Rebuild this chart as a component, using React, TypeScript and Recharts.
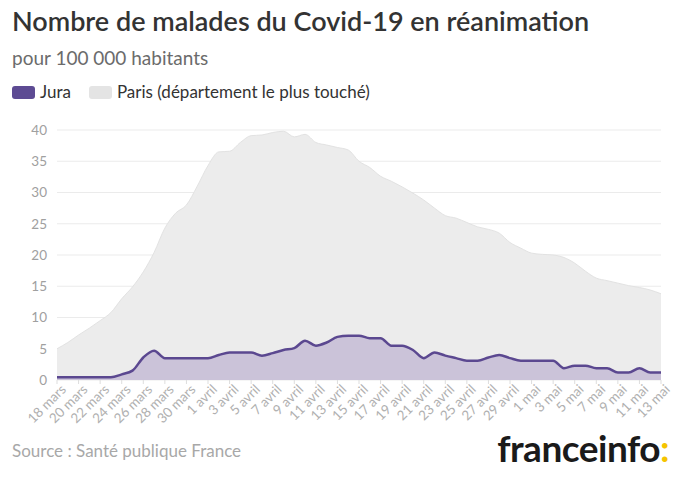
import React from 'react';
import { AreaChart, Area, XAxis, YAxis, CartesianGrid } from 'recharts';

const dates = [
    '18 mars', '19 mars', '20 mars', '21 mars', '22 mars', '23 mars', '24 mars', '25 mars',
    '26 mars', '27 mars', '28 mars', '29 mars', '30 mars', '31 mars',
    '1 avril', '2 avril', '3 avril', '4 avril', '5 avril', '6 avril', '7 avril', '8 avril',
    '9 avril', '10 avril', '11 avril', '12 avril', '13 avril', '14 avril', '15 avril',
    '16 avril', '17 avril', '18 avril', '19 avril', '20 avril', '21 avril', '22 avril',
    '23 avril', '24 avril', '25 avril', '26 avril', '27 avril', '28 avril', '29 avril', '30 avril',
    '1 mai', '2 mai', '3 mai', '4 mai', '5 mai', '6 mai', '7 mai', '8 mai', '9 mai',
    '10 mai', '11 mai', '12 mai', '13 mai',
];

const jura = [
    0.45, 0.45, 0.45, 0.45, 0.45, 0.45, 0.9, 1.5, 3.6, 4.7, 3.5, 3.5, 3.5, 3.5,
    3.5, 4.0, 4.4, 4.4, 4.4, 3.9, 4.3, 4.8, 5.1, 6.3, 5.5, 6.0, 6.9, 7.1, 7.1,
    6.7, 6.7, 5.5, 5.5, 4.8, 3.5, 4.4, 3.9, 3.5, 3.1, 3.1, 3.6, 4.0, 3.5, 3.1,
    3.1, 3.1, 3.1, 1.9, 2.3, 2.3, 1.9, 1.9, 1.2, 1.2, 1.9, 1.2, 1.2,
];

const paris = [
    5.0, 6.0, 7.2, 8.3, 9.5, 10.8, 13.0, 14.9, 17.3, 20.4, 24.3, 26.7, 28.0, 31.0,
    34.3, 36.5, 36.6, 38.0, 39.1, 39.2, 39.6, 39.8, 38.9, 39.3, 38.0, 37.6, 37.2, 36.8, 35.0,
    34.0, 32.6, 31.8, 30.9, 29.9, 28.8, 27.5, 26.3, 25.9, 25.2, 24.5, 24.1, 23.5, 22.0, 21.1,
    20.3, 20.1, 20.0, 19.6, 18.7, 17.4, 16.3, 15.9, 15.5, 15.1, 14.8, 14.4, 13.8,
];

const yTicks = [0, 5, 10, 15, 20, 25, 30, 35, 40];

const data = dates.map((d, i) => ({ date: d, jura: jura[i], paris: paris[i] }));

const FONT = 'Lato, "Open Sans", sans-serif';

const DateTick = (props: any) => {
    const { x, y, payload } = props;
    return (
        <g transform={`translate(${x},${y})`}>
            <text
                x={4}
                y={10}
                textAnchor="end"
                fill="#b0b0b0"
                fontSize={13.5}
                fontFamily={FONT}
                transform="rotate(-45)"
            >
                {payload.value}
            </text>
        </g>
    );
};

const Swatch = ({ color }: { color: string }) => (
    <span
        style={{
            display: 'inline-block',
            width: 23,
            height: 13,
            borderRadius: 3,
            background: color,
            marginRight: 5,
            verticalAlign: -1,
        }}
    />
);

export default function App() {
    return (
        <div
            style={{
                position: 'absolute',
                left: 0,
                top: 0,
                width: 680,
                height: 480,
                background: '#fff',
                fontFamily: FONT,
                overflow: 'hidden',
            }}
        >
            <div style={{ position: 'absolute', left: 12, top: 4, fontSize: 27, fontWeight: 600, color: '#333' }}>
                Nombre de malades du Covid-19 en réanimation
            </div>
            <div style={{ position: 'absolute', left: 12, top: 46, fontSize: 19, color: '#6b6b6b' }}>
                pour 100 000 habitants
            </div>
            <div style={{ position: 'absolute', left: 12, top: 81, fontSize: 17, color: '#333' }}>
                <Swatch color="#5d4b93" />
                <span style={{ marginRight: 18 }}>Jura</span>
                <Swatch color="#e4e4e4" />
                <span>Paris (département le plus touché)</span>
            </div>

            <div style={{ position: 'absolute', left: 0, top: 110 }}>
                <AreaChart width={680} height={330} data={data} margin={{ top: 20, right: 19, bottom: 5, left: 0 }}>
                    <CartesianGrid vertical={false} stroke="#ebebeb" />
                    <XAxis
                        dataKey="date"
                        interval={1}
                        tick={<DateTick />}
                        tickLine={{ stroke: '#ddd' }}
                        tickSize={4}
                        axisLine={false}
                        height={55}
                    />
                    <YAxis
                        domain={[0, 40]}
                        ticks={yTicks}
                        width={57}
                        axisLine={false}
                        tickLine={false}
                        tick={{ fill: '#a0a0a0', fontSize: 13.5, fontFamily: FONT }}
                        tickMargin={4}
                    />
                    <Area
                        type="monotone"
                        dataKey="paris"
                        stroke="#e2e2e2"
                        strokeWidth={1}
                        fill="#ececec"
                        fillOpacity={1}
                        isAnimationActive={false}
                        dot={false}
                        activeDot={false}
                    />
                    <Area
                        type="monotone"
                        dataKey="jura"
                        stroke="#5b4890"
                        strokeWidth={2.5}
                        fill="#cbc3d9"
                        fillOpacity={1}
                        isAnimationActive={false}
                        dot={false}
                        activeDot={false}
                    />
                </AreaChart>
            </div>

            <div style={{ position: 'absolute', left: 12, top: 440, fontSize: 17, color: '#a8a8a8' }}>
                Source : Santé publique France
            </div>
            <div
                style={{
                    position: 'absolute',
                    right: 11,
                    top: 425,
                    fontSize: 37,
                    fontWeight: 700,
                    color: '#1a1a1a',
                    letterSpacing: -0.5,
                }}
            >
                franceinfo<span style={{ color: '#f5c400' }}>:</span>
            </div>
        </div>
    );
}
